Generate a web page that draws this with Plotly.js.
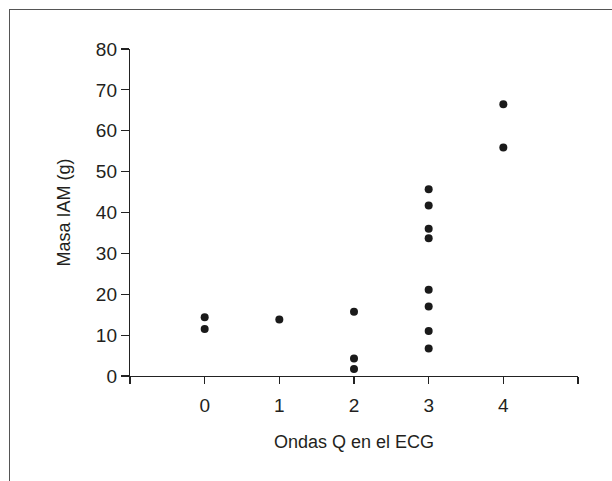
<!DOCTYPE html>
<html>
<head>
<meta charset="utf-8">
<script src="https://cdn.plot.ly/plotly-3.0.1.min.js"></script>
<style>
html,body{margin:0;padding:0;background:#fff;}
#wrap{position:relative;width:612px;height:481px;}
#chart{width:612px;height:481px;}
#frame{position:absolute;left:9px;top:9px;right:0;bottom:0;border-left:1.5px solid #555;border-top:1.5px solid #555;pointer-events:none;}
</style>
</head>
<body>
<div id="wrap"><div id="chart"></div><div id="frame"></div></div>
<script>
var qWaves = [0, 0, 1, 2, 2, 2, 3, 3, 3, 3, 3, 3, 3, 3, 4, 4];
var infarctMass = [14.4, 11.5, 13.8, 15.7, 4.3, 1.7, 45.7, 41.7, 36.0, 33.7, 21.1, 17.0, 11.0, 6.7, 66.5, 55.9];
var xTickVals = [-1, 0, 1, 2, 3, 4, 5];
var xTickText = ['', '0', '1', '2', '3', '4', ''];
var yTickVals = [0, 10, 20, 30, 40, 50, 60, 70, 80];

var font = {family: 'Liberation Sans, Arial, sans-serif', size: 18, color: '#231f20'};
var tfont = {family: 'Liberation Sans, Arial, sans-serif', size: 19, color: '#231f20'};
Plotly.newPlot('chart', [{
  x: qWaves, y: infarctMass, type: 'scatter', mode: 'markers',
  marker: {size: 8, color: '#1a1a1a'}, hoverinfo: 'x+y'
}], {
  width: 612, height: 481,
  margin: {l: 130, r: 34, t: 49, b: 105},
  paper_bgcolor: '#fff', plot_bgcolor: '#fff',
  font: font,
  showlegend: false,
  xaxis: {
    range: [-1, 5], tickmode: 'array', tickvals: xTickVals, ticktext: xTickText,
    showgrid: false, zeroline: false, showline: true, linecolor: '#222', linewidth: 1.2,
    ticks: 'outside', ticklen: 7, tickcolor: '#222', tickwidth: 1.2,
    tickfont: tfont, ticklabelstandoff: 5,
    title: {text: 'Ondas Q en el ECG', font: font, standoff: 20}
  },
  yaxis: {
    range: [0, 80], tickmode: 'array', tickvals: yTickVals,
    showgrid: false, zeroline: false, showline: true, linecolor: '#222', linewidth: 1.2,
    ticks: 'outside', ticklen: 8, tickcolor: '#222', tickwidth: 1.2,
    tickfont: tfont,
    title: {text: 'Masa IAM (g)', font: font, standoff: 20}
  }
}, {displayModeBar: false, staticPlot: true});
</script>
</body>
</html>
